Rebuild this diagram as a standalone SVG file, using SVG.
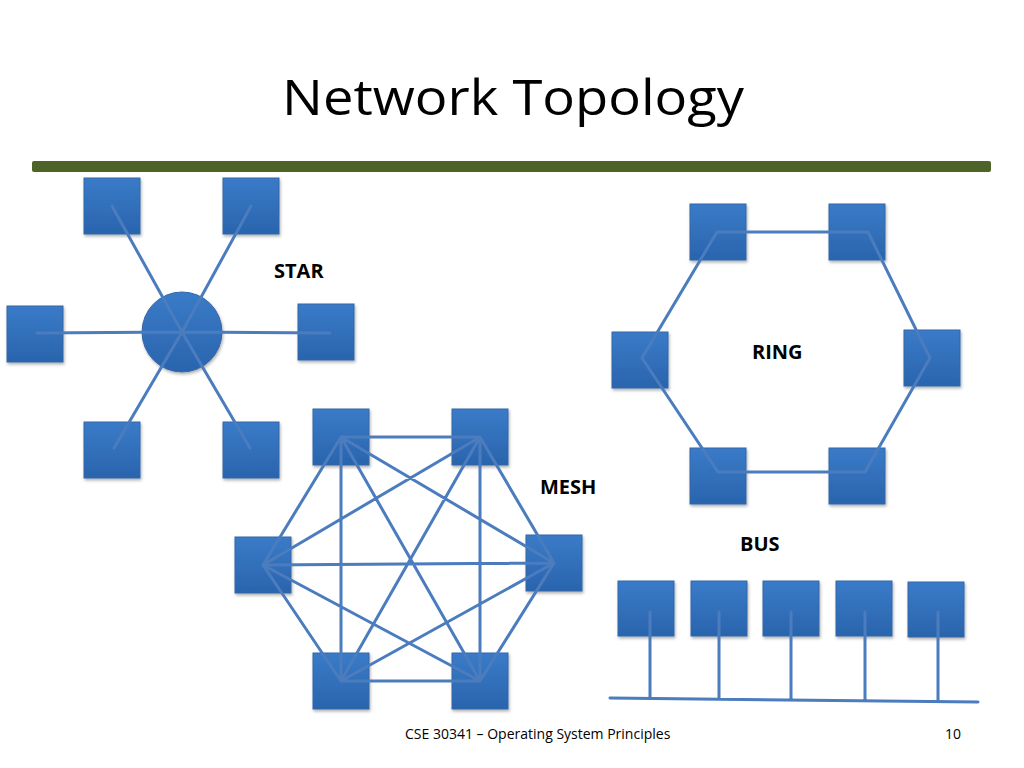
<svg xmlns="http://www.w3.org/2000/svg" width="1024" height="768" viewBox="0 0 1024 768">
<defs>
<linearGradient id="g" x1="0" y1="0" x2="0" y2="1"><stop offset="0" stop-color="#3a7bc8"/><stop offset="1" stop-color="#2a64ad"/></linearGradient>
<filter id="sh" x="-20%" y="-20%" width="150%" height="150%"><feDropShadow dx="1" dy="2" stdDeviation="1.5" flood-color="#000" flood-opacity="0.3"/></filter>
</defs>
<style>
.n{fill:url(#g);stroke:#3567a6;stroke-width:1;filter:url(#sh)}
.c{stroke:#4a7cbe;stroke-width:3;fill:none;stroke-linecap:round}
.l{font-family:"Open Sans","Liberation Sans",sans-serif;font-weight:bold;font-size:20px;fill:#000}
.f{font-family:"Open Sans","Liberation Sans",sans-serif;font-size:14px;fill:#000}
</style>
<rect width="1024" height="768" fill="#fff"/>
<text x="282" y="115" font-family="'Open Sans','Liberation Sans',sans-serif" font-size="50" textLength="462" lengthAdjust="spacingAndGlyphs" fill="#000">Network Topology</text>
<rect x="32" y="161" width="959" height="11" rx="2" fill="#4f6228"/>
<g id="star-nodes">
<rect id="s1" class="n" x="84" y="178" width="56" height="56"/>
<rect id="s2" class="n" x="223" y="178" width="56" height="56"/>
<rect id="s3" class="n" x="7" y="306" width="56" height="56"/>
<rect id="s4" class="n" x="298" y="304" width="56" height="56"/>
<rect id="s5" class="n" x="84" y="422" width="56" height="56"/>
<rect id="s6" class="n" x="223" y="422" width="56" height="56"/>
<circle id="hub" class="n" cx="182" cy="332" r="40"/>
</g>
<g id="ring-nodes">
<rect class="n" x="690" y="204" width="56" height="56"/>
<rect class="n" x="829" y="204" width="56" height="56"/>
<rect class="n" x="612" y="332" width="56" height="56"/>
<rect class="n" x="904" y="330" width="56" height="56"/>
<rect class="n" x="690" y="448" width="56" height="56"/>
<rect class="n" x="829" y="448" width="56" height="56"/>
</g>
<g id="mesh-nodes">
<rect class="n" x="313" y="409" width="56" height="56"/>
<rect class="n" x="452" y="409" width="56" height="56"/>
<rect class="n" x="235" y="537" width="56" height="56"/>
<rect class="n" x="526" y="535" width="56" height="56"/>
<rect class="n" x="313" y="653" width="56" height="56"/>
<rect class="n" x="452" y="653" width="56" height="56"/>
</g>
<g id="bus-nodes">
<rect class="n" x="618" y="581" width="56" height="55"/>
<rect class="n" x="691" y="581" width="56" height="55"/>
<rect class="n" x="763" y="581" width="56" height="55"/>
<rect class="n" x="836" y="581" width="56" height="55"/>
<rect class="n" x="908" y="582" width="56" height="55"/>
</g>
<g id="connectors">
<path class="c" d="M182 332L112 206M182 332L251 206M182 332L37 333M182 332L330 333M182 332L114 448M182 332L250 448"/>
<polygon class="c" points="717,232 868,232 930,358 865,472 718,472 642,358"/>
<path class="c" d="M341 437L480 437M341 437L263 565M341 437L554 563M341 437L341 681M341 437L480 681M480 437L263 565M480 437L554 563M480 437L341 681M480 437L480 681M263 565L554 563M263 565L341 681M263 565L480 681M554 563L341 681M554 563L480 681M341 681L480 681"/>
<path class="c" d="M610 698L978 702M650 612L650 698M719 612L719 699M791 612L791 700M865 612L865 701M938 612L938 701"/>
</g>
<g id="labels">
<text class="l" x="274" y="278">STAR</text>
<text class="l" x="752" y="359">RING</text>
<text class="l" x="540" y="494">MESH</text>
<text class="l" x="740" y="551">BUS</text>
<text class="f" x="405" y="739">CSE 30341 – Operating System Principles</text>
<text class="f" x="945" y="739">10</text>
</g>
</svg>
